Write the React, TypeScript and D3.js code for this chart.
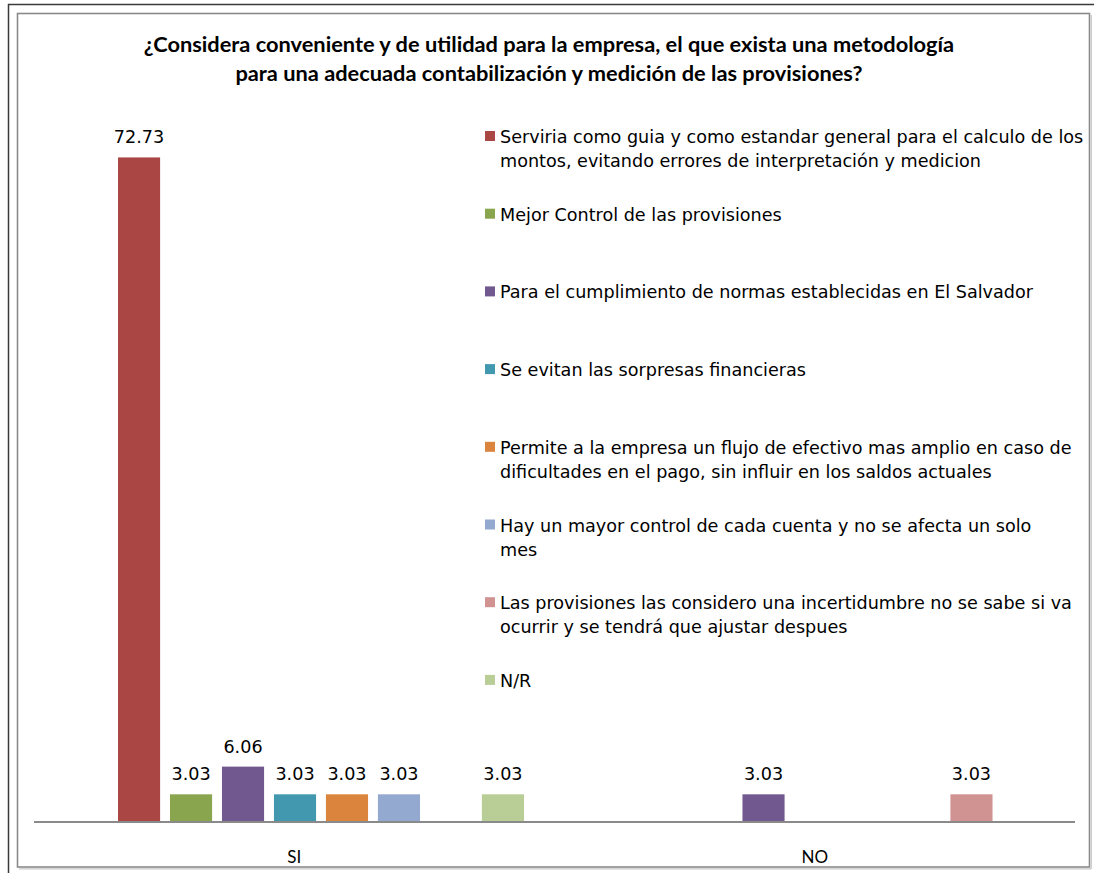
import React from "react";
import * as d3 from "d3";

const categories = ["SI", "NO"];

const seriesNames = [
  ["Serviria como guia y como estandar general para el calculo de los", "montos, evitando errores de interpretación y medicion"],
  ["Mejor Control de las provisiones"],
  ["Para el cumplimiento de normas establecidas en El Salvador"],
  ["Se evitan las sorpresas financieras"],
  ["Permite a la empresa un flujo de efectivo mas amplio en caso de", "dificultades en el pago, sin influir en los saldos actuales"],
  ["Hay un mayor control de cada cuenta y no se afecta un solo", "mes"],
  ["Las provisiones las considero una incertidumbre no se sabe si va", "ocurrir y se tendrá que ajustar despues"],
  ["N/R"],
];

const seriesColors = ["#AA4643", "#89A54E", "#71588F", "#4198AF", "#DB843D", "#93A9CF", "#D19392", "#B9CD96"];

// values per series: [SI, NO]; null = no bar
const valuesSI: (number | null)[] = [72.73, 3.03, 6.06, 3.03, 3.03, 3.03, null, 3.03];
const valuesNO: (number | null)[] = [null, null, 3.03, null, null, null, 3.03, null];

const titleLines = [
  "¿Considera conveniente y de utilidad para la empresa, el que exista una metodología",
  "para una adecuada contabilización y medición de las provisiones?",
];

const W = 1094;
const H = 873;

export default function App() {
  const x0 = d3.scaleBand<string>().domain(categories).range([34, 1075]).padding(0);
  const x1 = d3
    .scaleBand<number>()
    .domain(d3.range(seriesNames.length))
    .range([84, 490])
    .paddingInner(0.19)
    .paddingOuter(0);
  const y = d3.scaleLinear().domain([0, 80]).range([822, 91]);

  const rows = categories.map((c, ci) => ({
    cat: c,
    vals: ci === 0 ? valuesSI : valuesNO,
  }));

  const legendX = 485;
  const legendY0 = 137;
  const legendStep = 77.7;
  const lineH = 24;

  return (
    <svg
      width={W}
      height={H}
      style={{ position: "absolute", left: 0, top: 0, background: "#fff" }}
    >
      <rect x={0} y={0} width={W} height={H} fill="#fff" />
      {/* outer dark frame */}
      <line x1={8.5} y1={4} x2={8.5} y2={H} stroke="#3a3a3a" strokeWidth={1.5} />
      <line x1={8} y1={4.5} x2={W} y2={4.5} stroke="#3a3a3a" strokeWidth={1.5} />
      {/* inner chart frame */}
      <rect x={17.5} y={13.5} width={1072} height={853.5} fill="#fff" stroke="#8a8a8a" strokeWidth={1.6} />
      <line x1={19} y1={868.8} x2={1091} y2={868.8} stroke="#c8c8c8" strokeWidth={1.2} />
      <line x1={1091.3} y1={15} x2={1091.3} y2={869} stroke="#c8c8c8" strokeWidth={1.2} />

      {/* title */}
      {titleLines.map((t, i) => (
        <text
          key={i}
          x={549}
          y={52 + i * 29}
          textAnchor="middle"
          fontFamily="Lato, 'Open Sans', sans-serif"
          fontWeight="bold"
          fontSize={21.8}
          fill="#000"
        >
          {t}
        </text>
      ))}

      {/* bars */}
      {rows.map((r) =>
        r.vals.map((v, si) =>
          v == null ? null : (
            <g key={r.cat + si}>
              <rect
                x={(x0(r.cat) as number) + (x1(si) as number)}
                y={y(v)}
                width={x1.bandwidth()}
                height={y(0) - y(v)}
                fill={seriesColors[si]}
              />
              <text
                x={(x0(r.cat) as number) + (x1(si) as number) + x1.bandwidth() / 2}
                y={y(v) - 14}
                textAnchor="middle"
                fontFamily="'DejaVu Sans', Verdana, sans-serif"
                fontSize={17.6}
                fill="#000"
              >
                {v.toFixed(2)}
              </text>
            </g>
          )
        )
      )}

      {/* x axis */}
      <line x1={34} y1={822} x2={1075} y2={822} stroke="#8a8a8a" strokeWidth={2} />
      {categories.map((c) => (
        <text
          key={c}
          x={(x0(c) as number) + x0.bandwidth() / 2}
          y={863}
          textAnchor="middle"
          fontFamily="Lato, sans-serif"
          fontSize={17}
          fill="#000"
        >
          {c}
        </text>
      ))}

      {/* legend */}
      {seriesNames.map((lines, i) => {
        const cy = legendY0 + i * legendStep;
        return (
          <g key={i}>
            <rect x={legendX} y={cy - 6} width={10} height={10} fill={seriesColors[i]} />
            {lines.map((ln, li) => (
              <text
                key={li}
                x={500}
                y={cy + 6 + li * lineH}
                fontFamily="'DejaVu Sans', Verdana, sans-serif"
                fontSize={17.6}
                fill="#000"
              >
                {ln}
              </text>
            ))}
          </g>
        );
      })}
    </svg>
  );
}
